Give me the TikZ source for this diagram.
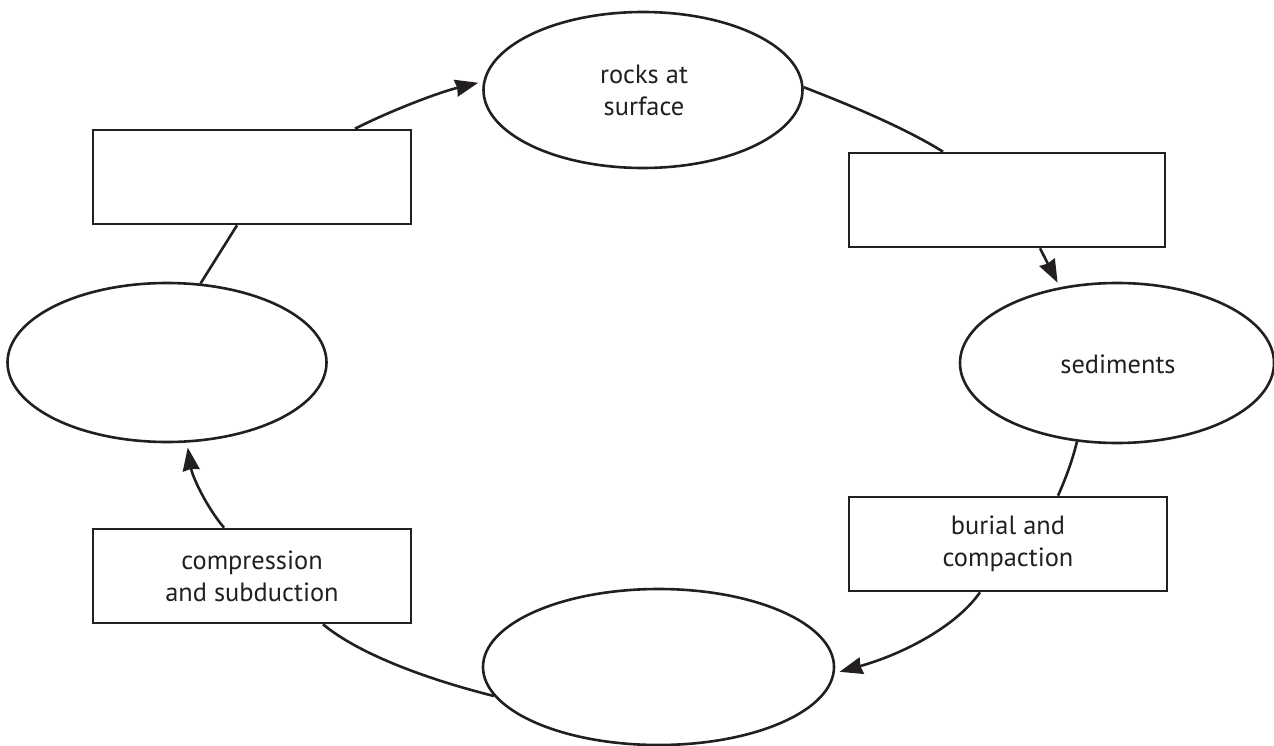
\documentclass[tikz,border=0pt]{standalone}
\usepackage{fontspec}
\setmainfont{PT Sans}
\usetikzlibrary{shapes.geometric,arrows.meta}
\definecolor{ink}{HTML}{231F20}
\begin{document}
\begin{tikzpicture}[x=1pt,y=-1pt,
  every node/.style={text=ink,font=\fontsize{26.4}{32}\selectfont,align=center,inner sep=0pt},
  oval/.style={ellipse,draw=ink,line width=2.6pt},
  box/.style={rectangle,draw=ink,line width=2.6pt,minimum width=318pt,minimum height=94pt},
  link/.style={draw=ink,line width=2.6pt},
  arr/.style={link,-{Stealth[length=23pt,width=17pt,inset=1.5pt]},shorten >=5pt}]
\useasboundingbox (0,0) rectangle (1274,746);
% ellipses
\node[oval,minimum width=319pt,minimum height=156pt] (rocks) at (643,90) {};
\node (rockstxt) at (644,90) {rocks at\\surface};
\node[oval,minimum width=314pt,minimum height=160pt] (sed) at (1117,363) {};
\node (sedtxt) at (1118,364) {sediments};
\node[oval,minimum width=319pt,minimum height=159pt] (left) at (167,362.5) {};
\node[oval,minimum width=351pt,minimum height=156pt] (bottom) at (658.5,667) {};
% boxes
\node[box] (tl) at (252,177) {};
\node[box,minimum width=316pt] (tr) at (1007,200) {};
\node[box] (burial) at (1008,544) {burial and\\compaction};
\node[box] (comp) at (252,576) {compression\\and subduction};
% connectors
\draw[arr] ([xshift=103pt]tl.north) .. controls (392,110) and (440,92) .. (rocks.177);
\draw[link] (rocks.1) .. controls (850,105) and (905,128) .. ([xshift=-64pt]tr.north);
\draw[arr] ([xshift=33pt]tr.south) -- (sed.127);
\draw[link] (sed.-117) .. controls (1072,462) and (1065,480) .. ([xshift=50pt]burial.north);
\draw[arr] ([xshift=-28pt]burial.south) .. controls (955,628) and (900,655) .. (bottom.-2);
\draw[link] (bottom.190) .. controls (430,680) and (360,655) .. ([xshift=71pt]comp.south);
\draw[arr] ([xshift=-28pt]comp.north) .. controls (205,505) and (192,475) .. (left.-76);
\draw[link] (left.67) -- ([xshift=-15pt]tl.south);
\end{tikzpicture}
\end{document}
